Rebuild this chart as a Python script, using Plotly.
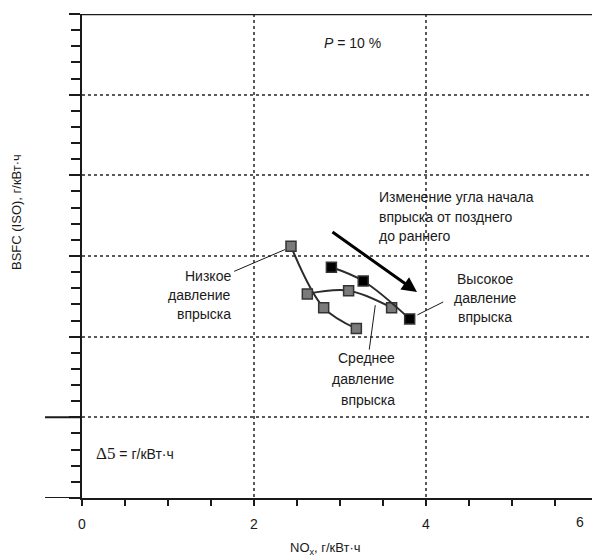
import plotly.graph_objects as go

# NOx (g/kWh) against relative BSFC (g/kWh, 5 per major division)
low_nox = [2.43, 2.81, 3.19]
low_bsfc = [15.6, 11.8, 10.5]

mid_nox = [2.62, 3.10, 3.60]
mid_bsfc = [12.65, 12.85, 11.8]

high_nox = [2.90, 3.27, 3.81]
high_bsfc = [14.3, 13.45, 11.1]

x_tick_vals = [0, 2, 4]
x_tick_text = ["0", "2", "4"]
y_tick_vals = [0, 5, 10, 15, 20, 25, 30]

FONT = "Liberation Sans, Arial, sans-serif"
INK = "#1a1a1a"
LINE = "#2b2b2b"

fig = go.Figure()

def series(x, y, fill):
    fig.add_trace(go.Scatter(
        x=x, y=y, mode="lines+markers",
        line=dict(color=LINE, width=2, shape="spline", smoothing=1.0),
        marker=dict(symbol="square", size=10, color=fill,
                    line=dict(color="#333333", width=1.5)),
        showlegend=False, hoverinfo="skip",
    ))

series(low_nox, low_bsfc, "#7a7a7a")
series(mid_nox, mid_bsfc, "#7a7a7a")
series(high_nox, high_bsfc, "#000000")

fig.update_layout(
    width=592, height=556,
    margin=dict(l=82, r=0, t=14, b=58),
    paper_bgcolor="white", plot_bgcolor="white",
    font=dict(family=FONT, size=14, color=INK),
    showlegend=False,
)

fig.update_xaxes(
    range=[0, 5.93], showline=True, linecolor=INK, linewidth=2,
    tickvals=x_tick_vals, ticktext=x_tick_text,
    ticks="outside", ticklen=6, tickwidth=2, tickcolor=INK,
    ticklabelstandoff=6,
    tickfont=dict(family=FONT, size=14, color=INK),
    minor=dict(dtick=0.5, ticks="outside", ticklen=6, tickwidth=2,
               tickcolor=INK, showgrid=False),
    showgrid=True, gridcolor="#5a5a5a", gridwidth=1.5, griddash="dot",
    zeroline=False,
)

fig.update_yaxes(
    range=[0, 30], showline=True, linecolor=INK, linewidth=2,
    tickvals=y_tick_vals, showticklabels=False,
    ticks="outside", ticklen=11, tickwidth=2, tickcolor=INK,
    minor=dict(dtick=1, ticks="outside", ticklen=9, tickwidth=2,
               tickcolor=INK, showgrid=False),
    showgrid=True, gridcolor="#5a5a5a", gridwidth=1.5, griddash="dot",
    zeroline=False,
)

# frame line along the top, x-axis extension to the left, long tick at y=5
fig.add_shape(type="line", xref="paper", yref="y", x0=0, x1=1, y0=30, y1=30,
              line=dict(color=INK, width=2.5))
fig.add_shape(type="line", xref="paper", yref="y", x0=-0.0725, x1=0, y0=0, y1=0,
              line=dict(color=INK, width=2))
fig.add_shape(type="line", xref="paper", yref="y", x0=-0.0725, x1=0, y0=5, y1=5,
              line=dict(color=INK, width=2))

# leader lines from labels to curves
leaders = [
    ((1.77, 14.05), (2.36, 15.4)),
    ((4.20, 12.15), (3.90, 11.35)),
    ((3.34, 9.20), (3.41, 11.95)),
]
for (xa, ya), (xb, yb) in leaders:
    fig.add_shape(type="line", xref="x", yref="y", x0=xa, y0=ya, x1=xb, y1=yb,
                  line=dict(color=INK, width=1))

# direction arrow: late to early injection timing
fig.add_annotation(x=3.895, y=12.77, ax=2.895, ay=16.55, xref="x", yref="y",
                   axref="x", ayref="y", text="", showarrow=True,
                   arrowhead=2, arrowsize=1.0, arrowwidth=3, arrowcolor="#000")

def px(xp):
    return (xp - 82) / 510

def py(yp):
    return (498 - yp) / 484

def label(text, x, y, xanchor="left", size=14, **kw):
    fig.add_annotation(text=text, x=x, y=y, xref="paper", yref="paper",
                       xanchor=xanchor, yanchor="middle",
                       showarrow=False, font=dict(family=FONT, size=size, color=INK),
                       **kw)

def block(lines, x, y0, step, xanchor):
    for i, t in enumerate(lines):
        label(t, px(x), py(y0 + i * step), xanchor=xanchor)

label("<i>P</i> = 10 %", px(352), py(43), xanchor="center")
block(["Изменение угла начала", "впрыска от позднего", "до раннего"],
      377, 197, 19.5, "left")
block(["Низкое", "давление", "впрыска"], 233, 276, 19, "right")
block(["Высокое", "давление", "впрыска"], 485, 279, 19, "center")
block(["Среднее", "давление", "впрыска"], 397, 358, 21, "right")
label('<span style="font-family:Liberation Serif, Times New Roman, serif;font-size:17px">Δ5</span> = г/кВт·ч',
      px(94), py(453), xanchor="left")
label("6", px(580), 0, xanchor="center", yshift=-24)
label("NO<sub>x</sub>, г/кВт·ч", px(325), py(548), xanchor="center", size=13)
label("BSFC (ISO), г/кВт·ч", px(17), py(212), xanchor="center", size=13, textangle=-90)

fig.write_html("out.html")
